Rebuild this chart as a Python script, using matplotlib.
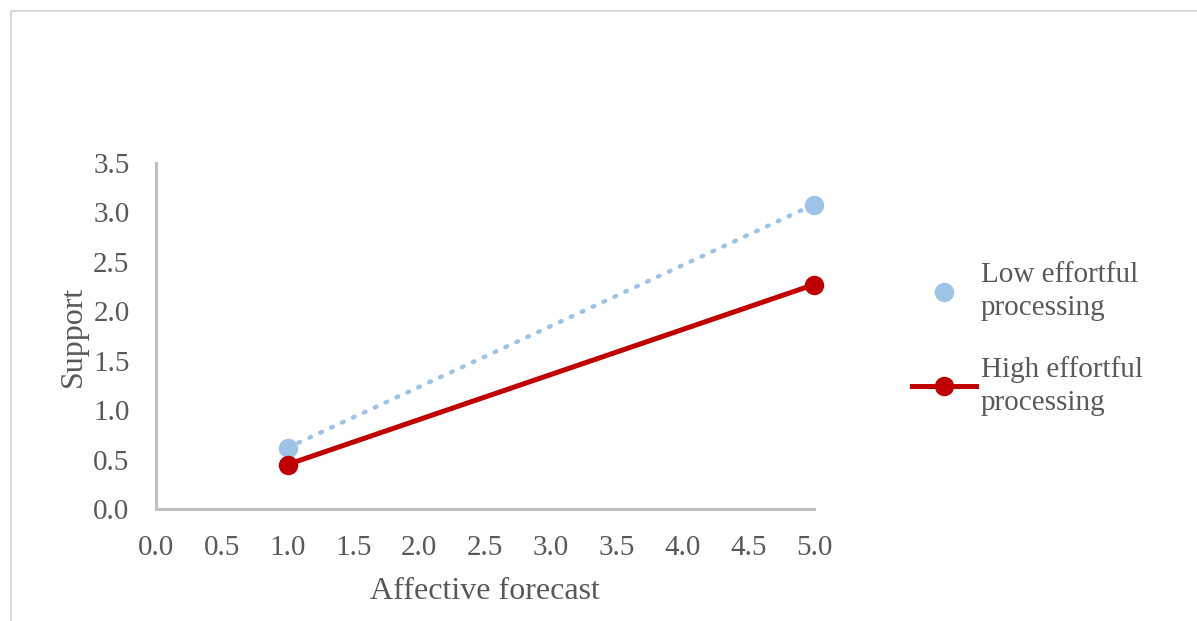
import matplotlib.pyplot as plt
from matplotlib.lines import Line2D
from matplotlib.patches import Rectangle

# dados
afetivo = [1.0, 5.0]
baixo_esforco = [0.62, 3.08]
alto_esforco = [0.45, 2.27]
rotulos = ["Low effortful\nprocessing", "High effortful\nprocessing"]
x_ticks = [0.0, 0.5, 1.0, 1.5, 2.0, 2.5, 3.0, 3.5, 4.0, 4.5, 5.0]
y_ticks = [0.0, 0.5, 1.0, 1.5, 2.0, 2.5, 3.0, 3.5]

cinza = "#595959"
azul = "#9DC3E6"
vermelho = "#C00000"

plt.rcParams["font.family"] = ["Liberation Serif", "DejaVu Serif"]

fig = plt.figure(figsize=(11.97, 6.21), dpi=100)
# moldura externa (cortada na borda direita/inferior)
fig.patches.append(Rectangle((11 / 1197, -0.1), 1.2, 1 - 11 / 621 + 0.1,
                             transform=fig.transFigure, fill=False,
                             edgecolor="#D9D9D9", linewidth=1.5))

ax = fig.add_axes([156 / 1197, 112 / 621, 658 / 1197, 346 / 621])

ax.plot(afetivo, baixo_esforco, color=azul, linewidth=3.2,
        linestyle=(0, (0.4, 2.3)), dash_capstyle="round",
        marker="o", markersize=13, clip_on=False)
ax.plot(afetivo, alto_esforco, color=vermelho, linewidth=3.6,
        marker="o", markersize=13, clip_on=False)

ax.set_xlim(0, 5)
ax.set_ylim(0, 3.5)
ax.set_xticks(x_ticks)
ax.set_yticks(y_ticks)
ax.set_xticklabels([f"{v:.1f}" for v in x_ticks])
ax.set_yticklabels([f"{v:.1f}" for v in y_ticks])
ax.tick_params(length=0, labelsize=21, colors=cinza)
ax.tick_params(axis="y", pad=19)
ax.tick_params(axis="x", pad=19)

for lado in ("top", "right"):
    ax.spines[lado].set_visible(False)
for lado in ("left", "bottom"):
    ax.spines[lado].set_color("#BFBFBF")
    ax.spines[lado].set_linewidth(2.2)

ax.set_xlabel("Affective forecast", fontsize=23, color=cinza, labelpad=11)
ax.set_ylabel("Support", fontsize=23, color=cinza, labelpad=4)

# legenda: marcador azul sem linha
h_baixo = Line2D([], [], color=azul, marker="o", markersize=13, linestyle="none")
h_alto = Line2D([], [], color=vermelho, marker="o", markersize=13, linewidth=3.6)
leg = fig.legend([h_baixo, h_alto], rotulos, loc="upper left",
                 bbox_to_anchor=(886 / 1197, 1 - 236 / 621), frameon=False,
                 fontsize=21, labelcolor=cinza, handlelength=2.2,
                 handletextpad=0.15, labelspacing=1.2)
for t in leg.get_texts():
    t.set_linespacing(1.35)

fig.savefig("out.png", dpi=100)
plt.close(fig)
